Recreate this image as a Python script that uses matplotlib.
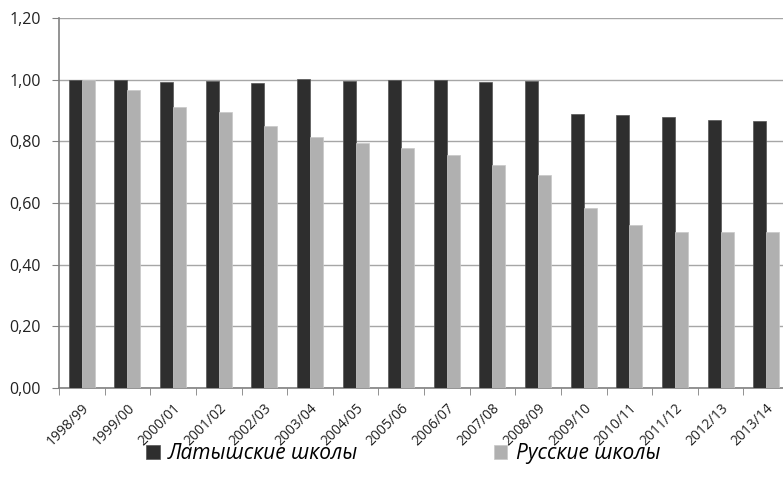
import matplotlib.pyplot as plt
import numpy as np

years = ["1998/99", "1999/00", "2000/01", "2001/02", "2002/03", "2003/04",
         "2004/05", "2005/06", "2006/07", "2007/08", "2008/09", "2009/10",
         "2010/11", "2011/12", "2012/13", "2013/14"]
latvian = [1.00, 1.00, 0.994, 0.997, 0.988, 1.003, 0.995, 1.00, 1.00, 0.991,
           0.995, 0.889, 0.886, 0.879, 0.869, 0.866]
russian = [1.00, 0.968, 0.911, 0.895, 0.850, 0.814, 0.793, 0.778, 0.757,
           0.722, 0.691, 0.584, 0.528, 0.506, 0.506, 0.506]
y_ticks = [0.0, 0.2, 0.4, 0.6, 0.8, 1.0, 1.2]

plt.rcParams['font.family'] = ['Open Sans', 'DejaVu Sans']

fig = plt.figure(figsize=(7.83, 4.87), dpi=100)
ax = fig.add_axes([59 / 783, 99 / 487, 730 / 783, 370 / 487])

x = np.arange(len(years))
w = 0.285
ax.bar(x - w / 2, latvian, w, color="#2e2e2e", edgecolor="#555555",
       linewidth=0.5, label="Латышские школы", zorder=3)
ax.bar(x + w / 2, russian, w, color="#b0b0b0", edgecolor="#c8c8c8",
       linewidth=0.5, label="Русские школы", zorder=3)

ax.set_xlim(-0.5, len(years) - 0.5)
ax.set_ylim(0, 1.2)
ax.set_yticks(y_ticks)
ax.set_yticklabels([f"{v:.2f}".replace(".", ",") for v in y_ticks],
                   fontsize=11.5, color="#222222")
ax.yaxis.grid(True, color="#a6a6a6", linewidth=1, zorder=0)

ax.set_xticks(x)
ax.set_xticklabels(years, rotation=45, ha="right", rotation_mode="anchor",
                   fontsize=10, color="#222222")
ax.tick_params(axis="x", which="major", length=0, pad=9)
ax.set_xticks(np.arange(len(years)) - 0.5, minor=True)
ax.tick_params(axis="x", which="minor", length=5, color="#808080")
ax.tick_params(axis="y", length=5, color="#808080", pad=8)

for side in ["top", "right"]:
    ax.spines[side].set_visible(False)
for side in ["left", "bottom"]:
    ax.spines[side].set_color("#808080")
    ax.spines[side].set_linewidth(1.2)

fig.legend(loc="center", bbox_to_anchor=(0.515, 0.068), ncol=2, frameon=False,
           prop={"style": "italic", "size": 15}, handlelength=0.65,
           handleheight=0.65, handletextpad=0.4, columnspacing=6.5)

fig.savefig("out.png", dpi=100)
